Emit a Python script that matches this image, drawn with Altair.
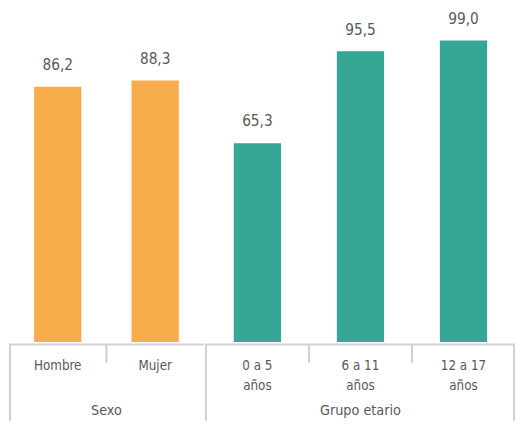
import altair as alt
import pandas as pd

sexo_cats = ["Hombre", "Mujer"]
sexo_vals = [86.2, 88.3]
edad_cats = ["0 a 5\naños", "6 a 11\naños", "12 a 17\naños"]
edad_vals = [65.3, 95.5, 99.0]
group_names = ["Sexo", "Grupo etario"]
colors = ["#F9AC4B", "#36A795"]

FONT = "Liberation Sans Narrow, DejaVu Sans Condensed, Roboto, sans-serif"
TXT = "#595959"
LINE = "#D0D0D0"
H = 414


def panel(cats, vals, group, color, width, ymax, left_edge, right_edge):
    df = pd.DataFrame({
        "cat": cats,
        "val": vals,
        "label": [f"{v:.1f}".replace(".", ",") for v in vals],
    })
    xs = alt.Scale(domain=cats, paddingInner=0, paddingOuter=0)
    x = alt.X("cat:N", axis=None, scale=xs)
    y = alt.Y("val:Q", axis=None, scale=alt.Scale(domain=[0, ymax], range=[334, 0]))
    base = alt.Chart(df)
    bars = base.mark_bar(width=48, color=color).encode(x=x, y=y)
    labels = base.mark_text(font=FONT, fontSize=15.5, color=TXT, dy=-17,
                            baseline="alphabetic").encode(x=x, y=y, text="label:N")
    catlab = base.mark_text(font=FONT, fontSize=13.5, color=TXT, baseline="alphabetic",
                            lineBreak="\n", lineHeight=21).encode(
        x=x, y=alt.value(362), text="cat:N")
    ticks = base.transform_filter(alt.datum.cat != cats[0]).mark_rule(
        color=LINE, strokeWidth=2).encode(
        x=alt.X("cat:N", axis=None, scale=xs, bandPosition=0),
        y=alt.value(336), y2=alt.value(355))
    gdf = pd.DataFrame({"group": [group]})
    gbase = alt.Chart(gdf)
    hline = gbase.mark_rule(color=LINE, strokeWidth=2).encode(
        x=alt.value(0), x2=alt.value(width), y=alt.value(336.5))
    layers = [bars, labels, catlab, ticks, hline]
    if left_edge is not None:
        layers.append(gbase.mark_rule(color=LINE, strokeWidth=2).encode(
            x=alt.value(left_edge), y=alt.value(336), y2=alt.value(H)))
    if right_edge is not None:
        layers.append(gbase.mark_rule(color=LINE, strokeWidth=2).encode(
            x=alt.value(right_edge), y=alt.value(336), y2=alt.value(H)))
    glab = gbase.mark_text(font=FONT, fontSize=14.5, color=TXT, baseline="alphabetic").encode(
        x=alt.value(width / 2), y=alt.value(408), text="group:N")
    layers.append(glab)
    return alt.layer(*layers).properties(width=width, height=H)


p1 = panel(sexo_cats, sexo_vals, group_names[0], colors[0], 198, 111, 1, None)
p2 = panel(edad_cats, edad_vals, group_names[1], colors[1], 314, 108, 0, 313)

chart = alt.hconcat(p1, p2, spacing=0).properties(
    padding=0
).configure_view(stroke=None)

chart.save("out.html", embed_options={"renderer": "svg", "actions": False})
